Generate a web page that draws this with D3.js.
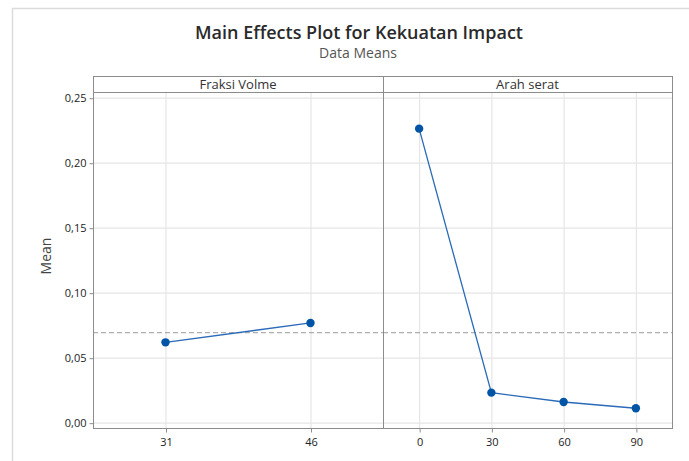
<!DOCTYPE html>
<html>
<head>
<meta charset="utf-8">
<script src="https://cdn.jsdelivr.net/npm/d3@7"></script>
<style>
  body { margin: 0; background: #fff; }
  svg { display: block; font-family: "Open Sans", "Noto Sans", sans-serif; }
</style>
</head>
<body>
<svg></svg>
<script>
// factor levels and means
let fraksiLevels = ["31", "46"]
let fraksiMeans = [0.0618, 0.0767]
let arahLevels = ["0", "30", "60", "90"]
let arahMeans = [0.2262, 0.0231, 0.0159, 0.0111]
let yTicks = [0, 0.05, 0.10, 0.15, 0.20, 0.25]
let grandMean = 0.0692

let width = 689
let height = 461

let left = 93
let mid = 383
let right = 672
let stripTop = 76
let plotTop = 92
let plotBottom = 428

let blue = "#0054a6"

let svg = d3.select("svg").attr("width", width).attr("height", height)

// outer light frame
svg.append("path")
  .attr("d", `M12.5,${height} L12.5,8.5 L${width},8.5`)
  .attr("fill", "none").attr("stroke", "#dcdcdc").attr("stroke-width", 1.5)

svg.append("text").attr("x", 359).attr("y", 39)
  .attr("text-anchor", "middle").attr("font-size", 18).attr("font-weight", 600)
  .attr("fill", "#2a2a2a").text("Main Effects Plot for Kekuatan Impact")
svg.append("text").attr("x", 358).attr("y", 58)
  .attr("text-anchor", "middle").attr("font-size", 14)
  .attr("fill", "#555").text("Data Means")

let yScale = d3.scaleLinear().domain([-0.0041, 0.2544]).range([plotBottom, plotTop])

let panels = [
  {name: "Fraksi Volme", levels: fraksiLevels, means: fraksiMeans, x0: left, x1: mid},
  {name: "Arah serat", levels: arahLevels, means: arahMeans, x0: mid, x1: right}
]

panels.forEach(p => {
  let x = d3.scalePoint().domain(p.levels).range([p.x0, p.x1]).padding(0.5)
  let g = svg.append("g")

  // grid
  g.selectAll(".hgrid").data(yTicks).enter().append("line")
    .attr("x1", p.x0).attr("x2", p.x1)
    .attr("y1", d => yScale(d) + 0.5).attr("y2", d => yScale(d) + 0.5)
    .attr("stroke", "#e6e6e6").attr("stroke-width", 1.2)
  g.selectAll(".vgrid").data(p.levels).enter().append("line")
    .attr("x1", d => x(d) + 0.5).attr("x2", d => x(d) + 0.5)
    .attr("y1", plotTop).attr("y2", plotBottom)
    .attr("stroke", "#e6e6e6").attr("stroke-width", 1.2)

  // grand mean
  g.append("line").attr("x1", p.x0).attr("x2", p.x1)
    .attr("y1", yScale(grandMean)).attr("y2", yScale(grandMean))
    .attr("stroke", "#9a9a9a").attr("stroke-dasharray", "5,3")

  // strip
  g.append("rect").attr("x", p.x0 + 0.5).attr("y", stripTop + 0.5)
    .attr("width", p.x1 - p.x0).attr("height", plotTop - stripTop)
    .attr("fill", "#fff").attr("stroke", "#8c8c8c")
  g.append("text").attr("x", (p.x0 + p.x1) / 2).attr("y", stripTop + 13)
    .attr("text-anchor", "middle").attr("font-size", 13).attr("fill", "#333")
    .text(p.name)

  // panel frame
  g.append("rect").attr("x", p.x0 + 0.5).attr("y", plotTop + 0.5)
    .attr("width", p.x1 - p.x0).attr("height", plotBottom - plotTop)
    .attr("fill", "none").attr("stroke", "#8c8c8c")

  // x axis
  let xAxis = d3.axisBottom(x).tickSize(4).tickPadding(6)
  let ax = svg.append("g").attr("transform", `translate(0.5,${plotBottom + 0.5})`).call(xAxis)
  ax.select(".domain").remove()
  ax.selectAll("line").attr("stroke", "#8c8c8c")
  ax.selectAll("text").attr("font-size", 11).attr("fill", "#222").attr("font-family", "Open Sans, sans-serif")

  // connecting line and points
  let pts = p.levels.map((l, i) => [x(l), yScale(p.means[i])])
  g.append("path").attr("d", d3.line()(pts))
    .attr("fill", "none").attr("stroke", "#2a6ab8").attr("stroke-width", 1.3)
  g.selectAll("circle").data(pts).enter().append("circle")
    .attr("cx", d => d[0]).attr("cy", d => d[1]).attr("r", 4.2).attr("fill", blue)
})

// y axis
let yAxis = d3.axisLeft(yScale).tickValues(yTicks).tickSize(4).tickPadding(3)
  .tickFormat(d => d3.format(".2f")(d).replace(".", ","))
let ay = svg.append("g").attr("transform", `translate(${left + 0.5},0.5)`).call(yAxis)
ay.select(".domain").remove()
ay.selectAll("line").attr("stroke", "#8c8c8c")
ay.selectAll("text").attr("font-size", 11).attr("fill", "#222").attr("font-family", "Open Sans, sans-serif")

svg.append("text").attr("transform", "translate(51,256) rotate(-90)")
  .attr("text-anchor", "middle").attr("font-size", 14).attr("fill", "#444").text("Mean")
</script>
</body>
</html>
